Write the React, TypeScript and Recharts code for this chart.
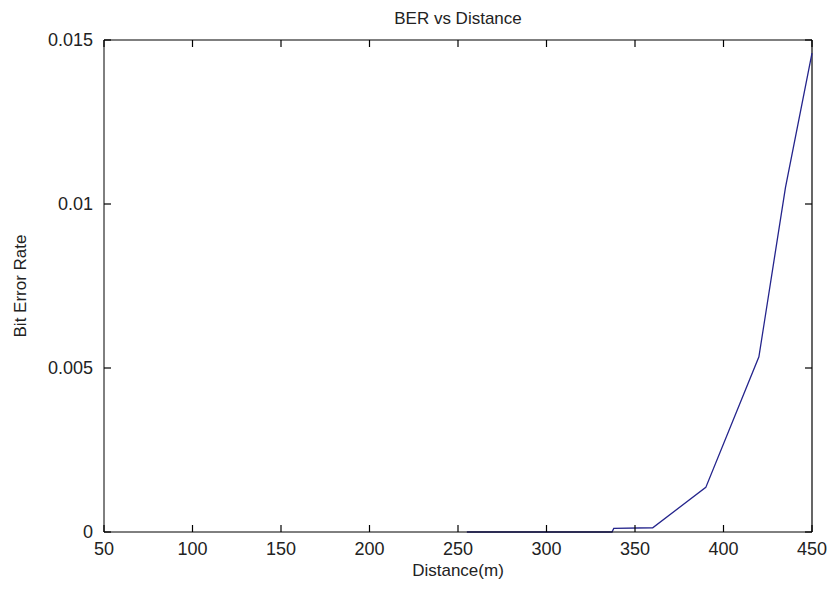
import React from 'react';
import { LineChart, Line, XAxis, YAxis, ReferenceLine } from 'recharts';

// distance (m) and measured bit error rate
const distances = [255, 300, 337, 338, 360, 390, 420, 435, 450];
const berValues = [0, 0, 0, 0.00011, 0.00013, 0.00136, 0.00534, 0.0105, 0.0146];

const xTicks = [50, 100, 150, 200, 250, 300, 350, 400, 450];
const yTicks = [0, 0.005, 0.01, 0.015];

const data = distances.map((d, i) => ({ distance: d, ber: berValues[i] }));

const X_MIN = 50;
const X_MAX = 450;
const Y_MIN = 0;
const Y_MAX = 0.015;

const W = 831;
const H = 596;
const margin = { top: 40, right: 19, bottom: 34, left: 44 };
const Y_AXIS_W = 60;
const X_AXIS_H = 30;

// plot box, derived from the layout above (used only for the tick overlay)
const boxLeft = margin.left + Y_AXIS_W;
const boxRight = W - margin.right;
const boxTop = margin.top;
const boxBottom = H - margin.bottom - X_AXIS_H;
const TICK = 7;

const px = (v: number) => boxLeft + ((v - X_MIN) / (X_MAX - X_MIN)) * (boxRight - boxLeft);
const py = (v: number) => boxBottom - ((v - Y_MIN) / (Y_MAX - Y_MIN)) * (boxBottom - boxTop);

const font = 'Liberation Sans, Arial, sans-serif';
const tickStyle = { fill: '#222', fontSize: 18, fontFamily: font };
const labelStyle = { fill: '#222', fontSize: 17, fontFamily: font };

// matlab style tick marks, pointing into the box on all four sides
const TickOverlay: React.FC = () => (
  <svg
    width={W}
    height={H}
    style={{ position: 'absolute', left: 0, top: 0, pointerEvents: 'none' }}
  >
    <g stroke="#000" strokeWidth={1.2}>
      {xTicks.map((t) => (
        <g key={`xt-${t}`}>
          <line x1={px(t)} x2={px(t)} y1={boxBottom} y2={boxBottom - TICK} />
          <line x1={px(t)} x2={px(t)} y1={boxTop} y2={boxTop + TICK} />
        </g>
      ))}
      {yTicks.map((t) => (
        <g key={`yt-${t}`}>
          <line x1={boxLeft} x2={boxLeft + TICK} y1={py(t)} y2={py(t)} />
          <line x1={boxRight} x2={boxRight - TICK} y1={py(t)} y2={py(t)} />
        </g>
      ))}
    </g>
  </svg>
);

const App: React.FC = () => {
  return (
    <div style={{ position: 'absolute', left: 0, top: 0, width: W, height: H, background: '#fff' }}>
      <LineChart width={W} height={H} data={data} margin={margin}>
        <XAxis
          dataKey="distance"
          type="number"
          domain={[X_MIN, X_MAX]}
          ticks={xTicks}
          height={X_AXIS_H}
          stroke="#000"
          tickLine={false}
          tickSize={0}
          tickMargin={10}
          tick={tickStyle}
          label={{ value: 'Distance(m)', position: 'bottom', offset: 2, style: labelStyle }}
        />
        <YAxis
          type="number"
          domain={[Y_MIN, Y_MAX]}
          ticks={yTicks}
          width={Y_AXIS_W}
          stroke="#000"
          tickLine={false}
          tickSize={0}
          tickMargin={11}
          tick={tickStyle}
          label={{ value: 'Bit Error Rate', angle: -90, position: 'insideLeft', offset: -24, style: { ...labelStyle, textAnchor: 'middle' } }}
        />
        {/* box: top and right sides */}
        <ReferenceLine y={Y_MAX} stroke="#000" strokeWidth={1.2} />
        <ReferenceLine x={X_MAX} stroke="#000" strokeWidth={1.2} />
        <text x={(boxLeft + boxRight) / 2} y={24} textAnchor="middle" style={labelStyle}>
          BER vs Distance
        </text>
        <Line
          dataKey="ber"
          stroke="#24248c"
          strokeWidth={1.3}
          dot={false}
          isAnimationActive={false}
        />
      </LineChart>
      <TickOverlay />
    </div>
  );
};

export default App;
